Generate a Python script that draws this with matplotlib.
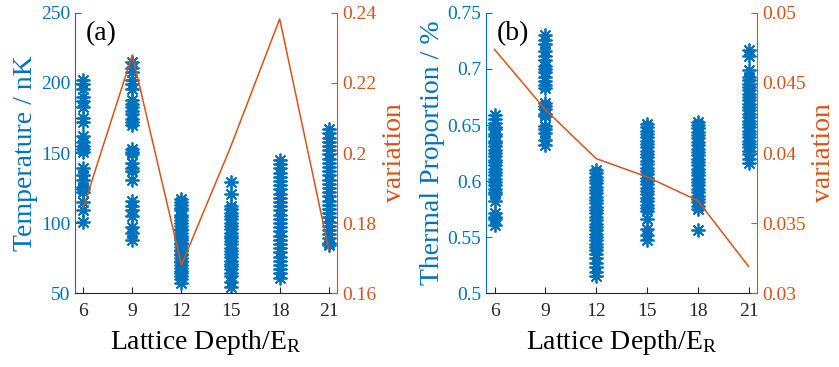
import matplotlib
matplotlib.use('Agg')
import matplotlib.pyplot as plt
from matplotlib.ticker import FormatStrFormatter

plt.rcParams['font.family'] = ['Liberation Serif', 'DejaVu Serif']
plt.rcParams['mathtext.fontset'] = 'custom'
plt.rcParams['mathtext.rm'] = 'Liberation Serif'
plt.rcParams['mathtext.it'] = 'Liberation Serif:italic'

BLUE = '#0072BD'
ORANGE = '#D95319'

depths = [6, 9, 12, 15, 18, 21]

# panel (a): temperature samples per lattice depth (nK)
temp_6 = [202, 199, 196, 190, 187, 183, 175, 172, 162, 158, 155, 153, 151, 139, 134, 131, 126, 124, 122, 115, 109, 101]
temp_9 = [215, 211, 208, 202, 199, 196, 188, 185, 183, 180, 178, 174, 172, 170, 153, 151, 149, 143, 139, 137, 131,
          116, 112, 109, 105, 97, 93, 88]
temp_12 = [117, 115, 113, 111, 109, 106, 104, 102, 100, 98, 96, 95, 93, 91, 89, 88, 86, 85, 83, 81, 80, 78, 77,
           75, 73, 72, 70, 68, 66, 64, 62, 60, 57]
temp_15 = [129, 121, 112, 110, 107, 105, 103, 100, 98, 96, 93, 91, 89, 87, 85, 82, 80, 78, 76, 73, 71, 69, 67,
           64, 62, 58, 54]
temp_18 = [145, 142, 139, 136, 133, 130, 127, 124, 121, 118, 115, 112, 109, 106, 103, 100, 97, 94, 91, 88, 85,
           82, 79, 76, 73, 70, 67, 64, 61]
temp_21 = [167, 164, 161, 158, 155, 152, 149, 146, 143, 140, 137, 134, 131, 128, 125, 122, 119, 116, 113, 110,
           107, 104, 101, 98, 95, 92, 89, 86, 84]
temps = [temp_6, temp_9, temp_12, temp_15, temp_18, temp_21]
var_a = [0.1843, 0.2280, 0.1680, 0.2017, 0.2383, 0.1723]

# panel (b): thermal proportion samples per lattice depth
prop_6 = [0.659, 0.655, 0.652, 0.648, 0.646, 0.642, 0.640, 0.636, 0.634, 0.631, 0.628, 0.625, 0.622, 0.619,
          0.617, 0.614, 0.611, 0.608, 0.605, 0.602, 0.599, 0.596, 0.593, 0.590, 0.588, 0.582, 0.571, 0.568,
          0.566, 0.561]
prop_9 = [0.730, 0.726, 0.722, 0.716, 0.712, 0.708, 0.703, 0.700, 0.697, 0.693, 0.689, 0.686, 0.683, 0.670,
          0.667, 0.664, 0.660, 0.658, 0.649, 0.646, 0.643, 0.637, 0.632]
prop_12 = [0.610, 0.607, 0.604, 0.601, 0.598, 0.595, 0.592, 0.589, 0.586, 0.583, 0.580, 0.577, 0.574, 0.571,
           0.568, 0.565, 0.562, 0.559, 0.556, 0.553, 0.550, 0.547, 0.544, 0.541, 0.538, 0.535, 0.531, 0.527,
           0.523, 0.519, 0.515]
prop_15 = [0.651, 0.648, 0.645, 0.642, 0.639, 0.636, 0.633, 0.630, 0.627, 0.624, 0.621, 0.618, 0.615, 0.612,
           0.609, 0.606, 0.603, 0.600, 0.597, 0.594, 0.591, 0.588, 0.585, 0.582, 0.579, 0.576, 0.573, 0.566,
           0.557, 0.552, 0.547]
prop_18 = [0.653, 0.650, 0.647, 0.644, 0.641, 0.638, 0.635, 0.632, 0.629, 0.626, 0.623, 0.620, 0.617, 0.614,
           0.611, 0.608, 0.605, 0.602, 0.599, 0.596, 0.593, 0.590, 0.587, 0.584, 0.581, 0.578, 0.575, 0.556]
prop_21 = [0.717, 0.712, 0.699, 0.693, 0.690, 0.687, 0.684, 0.681, 0.678, 0.675, 0.672, 0.669, 0.666, 0.663,
           0.660, 0.657, 0.654, 0.651, 0.648, 0.645, 0.642, 0.639, 0.636, 0.633, 0.630, 0.627, 0.624, 0.620,
           0.616]
props = [prop_6, prop_9, prop_12, prop_15, prop_18, prop_21]
var_b = [0.0474, 0.0431, 0.0396, 0.0383, 0.0366, 0.0319]

TICK_FS = 14
LABEL_FS = 20
MARKER = (8, 2, 0)


def style_axes(ax, ax2):
    for a in (ax, ax2):
        a.spines['top'].set_visible(False)
        a.tick_params(direction='in', labelsize=TICK_FS, length=4, width=0.8)
    ax.spines['right'].set_visible(False)
    ax.spines['left'].set_color(BLUE)
    ax.spines['bottom'].set_color('#262626')
    ax2.spines['left'].set_visible(False)
    ax2.spines['bottom'].set_visible(False)
    ax2.spines['right'].set_color(ORANGE)
    ax.tick_params(axis='y', colors=BLUE)
    ax.tick_params(axis='x', colors='#262626', pad=7)
    ax2.tick_params(axis='y', colors=ORANGE)
    ax.set_xlim(5.5, 21.5)
    ax.set_xticks(depths)
    ax.set_xlabel('Lattice Depth/E$_{\\mathrm{R}}$', fontsize=LABEL_FS, labelpad=6)


def draw_panel(rect, samples, var, ylim, yticks, ylim2, yticks2, ylabel, tag):
    ax = fig.add_axes(rect)
    ax2 = ax.twinx()
    for d, vals in zip(depths, samples):
        ax.plot([d] * len(vals), vals, linestyle='none', marker=MARKER,
                markersize=10, markeredgewidth=1.3, color=BLUE)
    ax2.plot(depths, var, color=ORANGE, lw=1.1)
    ax.set_ylim(*ylim)
    ax.set_yticks(yticks)
    ax2.set_ylim(*ylim2)
    ax2.set_yticks(yticks2)
    ax.yaxis.set_major_formatter(FormatStrFormatter('%g'))
    ax2.yaxis.set_major_formatter(FormatStrFormatter('%g'))
    ax.set_ylabel(ylabel, color=BLUE, fontsize=LABEL_FS, labelpad=2)
    ax2.set_ylabel('variation', color=ORANGE, fontsize=LABEL_FS, labelpad=4)
    style_axes(ax, ax2)
    ax.text(0.04, 0.97, tag, transform=ax.transAxes, ha='left', va='top', fontsize=20)
    return ax, ax2


fig = plt.figure(figsize=(8.39, 3.67), dpi=100)

draw_panel([0.0894, 0.2016, 0.3123, 0.763], temps, var_a,
           (50, 250), [50, 100, 150, 200, 250],
           (0.16, 0.24), [0.16, 0.18, 0.2, 0.22, 0.24],
           'Temperature / nK', '(a)')

draw_panel([0.5793, 0.2016, 0.323, 0.763], props, var_b,
           (0.5, 0.75), [0.5, 0.55, 0.6, 0.65, 0.7, 0.75],
           (0.03, 0.05), [0.03, 0.035, 0.04, 0.045, 0.05],
           'Thermal Proportion / %', '(b)')

fig.savefig('out.png', dpi=100)
